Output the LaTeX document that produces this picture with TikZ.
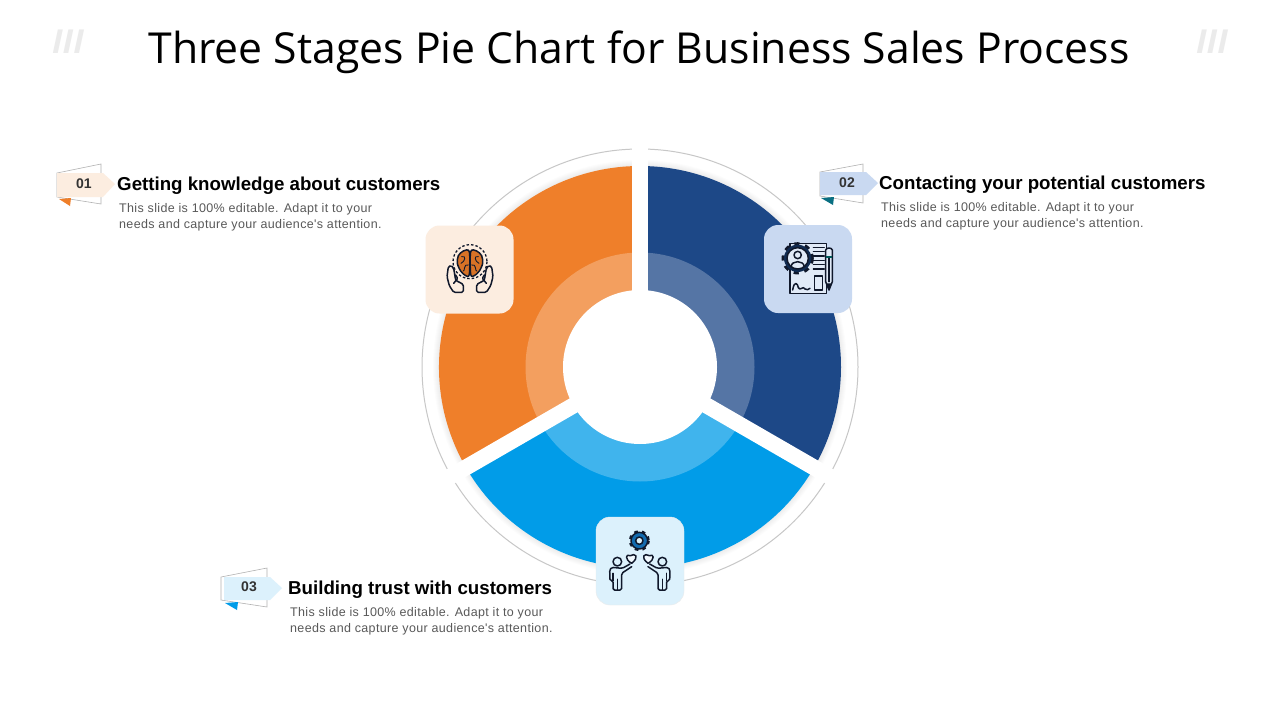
\documentclass[tikz,border=0pt]{standalone}
\usepackage{fontspec}
\setmainfont{Open Sans}
\newfontfamily\headfont{Liberation Sans}
\newfontfamily\bodyfont[LetterSpace=2.8]{Liberation Sans}
\newfontfamily\arialfont{Liberation Sans}
\usepackage{tikz}
\usetikzlibrary{positioning}
\definecolor{orangeC}{HTML}{EF7F2A}
\definecolor{navyC}{HTML}{1D4887}
\definecolor{skyC}{HTML}{019CE8}
\definecolor{orangeT}{HTML}{FCEDE0}
\definecolor{navyT}{HTML}{C9D9F1}
\definecolor{skyT}{HTML}{DCF1FC}
\definecolor{inkC}{HTML}{10182B}

\begin{document}
\begin{tikzpicture}[x=1pt,y=-1pt,
  tile node/.style={rounded corners=14pt,minimum size=88pt,inner sep=0pt},
  head node/.style={anchor=base west,inner sep=0pt,font=\headfont\fontsize{18.7}{22}\selectfont\bfseries},
  body node/.style={anchor=north west,inner sep=0pt,align=left,text=black!65,font=\bodyfont\fontsize{12.5}{16}\selectfont},
  num node/.style={inner sep=0pt,text=black!80,font=\arialfont\fontsize{14}{16}\selectfont\bfseries},
  mark node/.style={inner sep=0pt,text=black!8,font=\fontsize{33}{40}\selectfont\bfseries\itshape},
  frame line/.style={draw=black!30,line width=.6pt},
  icon line/.style={draw=inkC,line width=1.5pt,line join=round,line cap=round}]
  \useasboundingbox (0,0) rectangle (1280,720);
  \fill[white] (0,0) rectangle (1280,720);

  \node[inner sep=0pt,font=\fontsize{42.7}{50}\selectfont] (title) at (639,52) {Three Stages Pie Chart for Business Sales Process};
  \node[mark node] (markL) at (68,42) {III};
  \node[mark node] (markR) at (1212,42) {III};

  % pie
  \begin{scope}[shift={(640,367)}]
    \draw[black!22,line width=1pt] (0,0) circle (218);
    \foreach \r in {202,203,204,205,206,207}
      \fill[black,opacity=.012] (0,0) circle (\r);
    \fill[orangeC] (0,0) -- (150:201) arc (150:270:201) -- cycle;
    \fill[navyC] (0,0) -- (270:201) arc (270:390:201) -- cycle;
    \fill[skyC] (0,0) -- (30:201) arc (30:150:201) -- cycle;
    \fill[white,opacity=.25] (0,0) circle (114.5);
    \draw[white,line width=16pt] (0,0) -- (270:232);
    \draw[white,line width=16pt] (0,0) -- (30:232);
    \draw[white,line width=16pt] (0,0) -- (150:232);
    \fill[white] (0,0) circle (77);
  \end{scope}

  % tiles
  \node[tile node,fill=orangeT] (tileA) at (469.5,269.5) {};
  \node[tile node,fill=navyT] (tileB) at (808,269) {};
  \node[tile node,fill=skyT,draw=black!8] (tileC) at (640,561) {};

  % brain and hands
  \begin{scope}[shift={(415,215)},scale=1/3]
    \draw[inkC,line width=1.3pt,dash pattern=on 2.5pt off 2pt] (165,140) circle (51);
    \filldraw[fill=orangeC!90!black,icon line] plot[smooth cycle] coordinates {(163,110) (145,108) (130,122) (127,145) (137,168) (152,182) (163,178)};
    \filldraw[fill=orangeC!90!black,icon line] plot[smooth cycle] coordinates {(167,110) (185,108) (200,122) (203,145) (193,168) (178,182) (167,178)};
    \draw[icon line,line width=.9pt] (140,125) .. controls (155,120) and (150,140) .. (138,145) (160,150) .. controls (145,145) and (150,170) .. (145,168);
    \draw[icon line,line width=.9pt] (190,125) .. controls (175,120) and (180,140) .. (192,145) (170,150) .. controls (185,145) and (180,170) .. (185,168);
    \draw[icon line,rounded corners=1.5pt] (145,208) -- (122,196) -- (116,160) -- (108,151) -- (100,155) -- (96,185) -- (103,212) -- (116,232) -- (145,232) -- cycle;
    \draw[icon line,rounded corners=1.5pt] (185,208) -- (208,196) -- (214,160) -- (222,151) -- (230,155) -- (234,185) -- (227,212) -- (214,232) -- (185,232) -- cycle;
    \draw[icon line,rounded corners=1pt] (116,205) -- (128,190) -- (122,180);
    \draw[icon line,rounded corners=1pt] (214,205) -- (202,190) -- (208,180);
  \end{scope}

  % document, gear and pencil
  \begin{scope}[shift={(755,215)},scale=1/3]
    \filldraw[fill=navyT!55!white,icon line] (105,85) rectangle (215,235);
    \draw[icon line,line width=1.2pt] (175,97) -- (208,97) (175,110) -- (208,110) (175,123) -- (208,123) (175,136) -- (208,136) (175,149) -- (208,149) (175,162) -- (208,162);
    \draw[icon line] (178,183) rectangle (203,225);
    \draw[icon line] (113,225) .. controls (118,195) and (128,205) .. (130,218) .. controls (135,230) and (145,210) .. (150,222) .. controls (155,228) and (160,222) .. (165,220);
    \filldraw[fill=navyT!55!white,icon line] (212,112) -- (212,105) .. controls (214,97) and (230,97) .. (232,105) -- (232,200) -- (222,225) -- (212,200) -- cycle;
    \fill[inkC] (214,205) -- (230,205) -- (222,227) -- cycle;
    \draw[icon line] (222,130) -- (222,200);
    \fill[teal!70!black] (212,122) rectangle (232,130);
    \draw[inkC,line width=3.6pt,dash pattern=on 5pt off 5.7pt] (128,130) circle (43);
    \fill[navyC!60!black] (128,130) circle (41);
    \filldraw[fill=navyT!55!white,icon line] (128,130) circle (32);
    \draw[icon line] (128,120) circle (11);
    \draw[icon line] (108,155) .. controls (110,135) and (146,135) .. (148,155);
  \end{scope}

  % gear and two people
  \begin{scope}[shift={(585,510)},scale=1/3]
    \draw[inkC,line width=3pt,dash pattern=on 3.5pt off 3.95pt] (163,92) circle (27);
    \filldraw[fill=navyC!60!skyC,icon line] (163,92) circle (25);
    \filldraw[fill=skyT,icon line] (163,92) circle (11);
    \draw[icon line] (97,155) circle (13);
    \draw[icon line] (232,155) circle (13);
    \draw[icon line,rounded corners=1.5pt] (135,162) -- (112,175) -- (80,172) -- (74,180) -- (75,212) -- (84,212) -- (84,240) -- (110,240) -- (110,190) -- (140,170);
    \draw[icon line,rounded corners=1.5pt] (194,162) -- (217,175) -- (249,172) -- (255,180) -- (254,212) -- (245,212) -- (245,240) -- (219,240) -- (219,190) -- (189,170);
    \draw[icon line] (84,190) -- (84,212) (245,190) -- (245,212) (97,208) -- (97,240) (232,208) -- (232,240);
    \filldraw[fill=skyT!40!white,icon line] (140,160) .. controls (118,148) and (122,130) .. (136,137) .. controls (150,128) and (165,140) .. (140,160);
    \filldraw[fill=skyT!40!white,icon line] (189,160) .. controls (211,148) and (207,130) .. (193,137) .. controls (179,128) and (164,140) .. (189,160);
  \end{scope}

  % badge 01
  \draw[frame line] (57,173) -- (101,164) -- (101,204) -- (57,197) -- cycle;
  \fill[orangeT] (57,173) -- (103,173) -- (115,184) -- (103,197) -- (57,197) -- cycle;
  \fill[orangeC] (59,199) -- (71,198) -- (70,206) -- cycle;
  \node[num node] (numA) at (84,184) {01};
  \node[head node] (headA) at (117,190.5) {Getting knowledge about customers};
  \node[body node] (bodyA) [below right=13pt and 2pt of headA.base west] {This slide is 100\% editable. Adapt it to your\\needs and capture your audience's attention.};

  % badge 02
  \draw[frame line] (820,172) -- (863,164) -- (863,203) -- (820,196) -- cycle;
  \fill[navyT] (820,172) -- (866,172) -- (878,183) -- (866,195) -- (820,195) -- cycle;
  \fill[teal!70!navyC] (821,198) -- (834,197) -- (833,205) -- cycle;
  \node[num node] (numB) at (847,183) {02};
  \node[head node] (headB) at (879,189.5) {Contacting your potential customers};
  \node[body node] (bodyB) [below right=13pt and 2pt of headB.base west] {This slide is 100\% editable. Adapt it to your\\needs and capture your audience's attention.};

  % badge 03
  \draw[frame line] (221,577) -- (267,568) -- (267,607) -- (221,600) -- cycle;
  \fill[skyT] (224,577) -- (270,577) -- (282,588) -- (270,600) -- (224,600) -- cycle;
  \fill[skyC] (225,603) -- (238,602) -- (237,610) -- cycle;
  \node[num node] (numC) at (249,587) {03};
  \node[head node] (headC) at (288,594.5) {Building trust with customers};
  \node[body node] (bodyC) [below right=13pt and 2pt of headC.base west] {This slide is 100\% editable. Adapt it to your\\needs and capture your audience's attention.};
\end{tikzpicture}
\end{document}
